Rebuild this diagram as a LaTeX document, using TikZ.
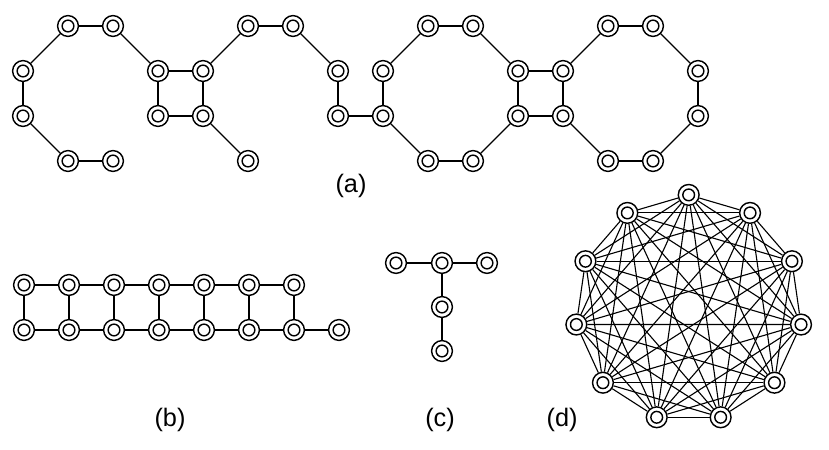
\documentclass[tikz,border=0pt]{standalone}
\usepackage{fontspec}
\setmainfont{Liberation Sans}
\tikzset{
	vtx/.style={circle, draw, fill=white, minimum size=4.62mm, inner sep=0pt, line width=0.9pt,
		path picture={\draw[line width=0.9pt] (path picture bounding box.center) circle (1.3mm);}},
	edge/.style={line width=0.8pt},
	tag/.style={font=\fontsize{16}{19}\selectfont}
}

\begin{document}
\begin{tikzpicture}
	\useasboundingbox (0, 0) rectangle (18.422, -10);

	% (a) two chains of rings
	\begin{scope}[shift={(0.511, -0.578)}, y=-1cm]
		\foreach \c/\r in {1/0, 2/0, 0/1, 0/2, 1/3, 2/3, 3/1, 4/1, 3/2, 4/2, 5/0, 5/3,
			6/0, 7/1, 7/2, 8/1, 8/2, 9/0, 10/0, 11/1, 11/2, 9/3, 10/3,
			12/1, 12/2, 13/0, 14/0, 15/1, 15/2, 13/3, 14/3}
			\node[vtx] (a\c-\r) at (\c, \r) {};
		\foreach \p/\q in {1-0/2-0, 1-0/0-1, 0-1/0-2, 0-2/1-3, 1-3/2-3, 2-0/3-1,
			3-1/4-1, 3-1/3-2, 3-2/4-2, 4-1/4-2, 4-1/5-0, 4-2/5-3, 5-0/6-0,
			6-0/7-1, 7-1/7-2, 7-2/8-2, 8-2/8-1, 8-1/9-0, 9-0/10-0, 10-0/11-1,
			11-1/11-2, 8-2/9-3, 9-3/10-3, 10-3/11-2, 11-1/12-1, 11-2/12-2,
			12-1/12-2, 12-1/13-0, 13-0/14-0, 14-0/15-1, 15-1/15-2, 15-2/14-3,
			14-3/13-3, 13-3/12-2}
			\draw[edge] (a\p) -- (a\q);
	\end{scope}
	\node[tag] (la) at (7.8, -4.133) {(a)};

	% (b) ladder
	\foreach \c in {0,...,7}
		\node[vtx] (bl\c) at (0.533+\c, -7.333) {};
	\foreach \c in {0,...,6} {
		\node[vtx] (bu\c) at (0.533+\c, -6.333) {};
		\draw[edge] (bu\c) -- (bl\c);
	}
	\foreach \c [evaluate=\c as \n using int(\c+1)] in {0,...,5}
		\draw[edge] (bu\c) -- (bu\n);
	\foreach \c [evaluate=\c as \n using int(\c+1)] in {0,...,6}
		\draw[edge] (bl\c) -- (bl\n);
	\node[tag] (lb) at (3.778, -9.333) {(b)};

	% (c) tee
	\node[vtx] (c1) at (8.8, -5.844) {};
	\node[vtx] (c2) at (9.822, -5.844) {};
	\node[vtx] (c3) at (10.822, -5.844) {};
	\node[vtx] (c4) at (9.822, -6.822) {};
	\node[vtx] (c5) at (9.822, -7.8) {};
	\draw[edge] (c1) -- (c2) -- (c3);
	\draw[edge] (c2) -- (c4) -- (c5);
	\node[tag] (lc) at (9.778, -9.333) {(c)};

	% (d) complete graph
	\begin{scope}[shift={(15.304, -6.853)}]
		\foreach \i in {1,...,11}
			\node[vtx] (d\i) at ({90+(\i-1)*360/11}:2.522) {};
		\foreach \i in {1,...,10} {
			\pgfmathtruncatemacro\k{\i+1}
			\foreach \j in {\k,...,11}
				\draw[line width=0.7pt] (d\i) -- (d\j);
		}
	\end{scope}
	\node[tag] (ld) at (12.49, -9.333) {(d)};
\end{tikzpicture}
\end{document}
